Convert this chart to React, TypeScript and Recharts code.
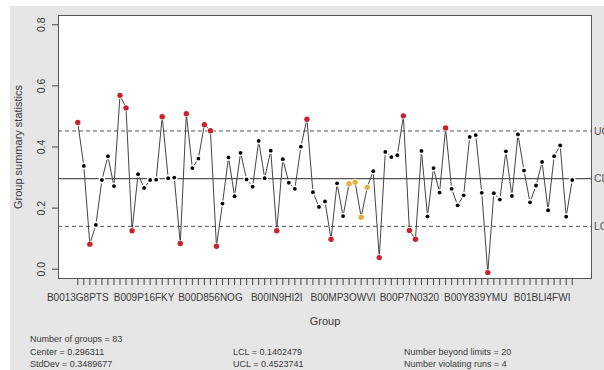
import React from "react";
import { LineChart, Line, XAxis, YAxis, ReferenceLine } from "recharts";

const values: number[] = [
  0.48, 0.338, 0.082, 0.145, 0.292, 0.37, 0.272, 0.569, 0.528, 0.126,
  0.311, 0.266, 0.292, 0.293, 0.499, 0.298, 0.3, 0.084, 0.509, 0.331,
  0.362, 0.473, 0.453, 0.075, 0.215, 0.366, 0.239, 0.381, 0.294, 0.27,
  0.42, 0.298, 0.388, 0.126, 0.36, 0.283, 0.263, 0.401, 0.491, 0.252,
  0.204, 0.222, 0.098, 0.281, 0.174, 0.28, 0.285, 0.17, 0.268, 0.321,
  0.038, 0.384, 0.367, 0.373, 0.502, 0.127, 0.098, 0.387, 0.173, 0.331,
  0.251, 0.462, 0.263, 0.209, 0.242, 0.433, 0.439, 0.25, -0.011, 0.249,
  0.228, 0.386, 0.24, 0.441, 0.323, 0.219, 0.274, 0.351, 0.193, 0.37,
  0.405, 0.172, 0.292,
];

const tickLabels: string[] = [
  "B0013G8PTS", "B009P16FKY", "B00D856NOG", "B00IN9HI2I",
  "B00MP3OWVI", "B00P7N0320", "B00Y839YMU", "B01BLI4FWI",
];
const tickLabelGroups: number[] = [1, 12, 23, 34, 45, 56, 67, 78];
const runViolationGroups: number[] = [46, 47, 48, 49];
const yTicks: number[] = [0, 0.2, 0.4, 0.6, 0.8];

const CENTER = 0.296311;
const LCL = 0.1402479;
const UCL = 0.4523741;

const data = values.map((v, i) => ({ group: i + 1, value: v }));
const allGroups = data.map((d) => d.group);
const labelMap: Record<number, string> = {};
tickLabelGroups.forEach((g, i) => (labelMap[g] = tickLabels[i]));

const FONT = '"Liberation Sans", Arial, Helvetica, sans-serif';
const TEXT = "#3a3a3a";

const renderDot = (props: any) => {
  const { cx, cy, payload, index } = props;
  const v = payload.value;
  let fill = "#000";
  let r = 1.9;
  if (v > UCL || v < LCL) {
    fill = "#c8232c";
    r = 2.7;
  } else if (runViolationGroups.includes(payload.group)) {
    fill = "#e3b040";
    r = 2.7;
  }
  return (
    <g key={`dot-${index}`}>
      <circle cx={cx} cy={cy} r={3.4} fill="#fff" />
      <circle cx={cx} cy={cy} r={r} fill={fill} />
    </g>
  );
};

const XTick = (props: any) => {
  const { x, y, payload } = props;
  const label = labelMap[payload.value] ?? "";
  return (
    <g>
      <line x1={x} y1={279} x2={x} y2={285} stroke="#444" strokeWidth={1} />
      {label ? (
        <text
          x={x}
          y={301}
          textAnchor="middle"
          fontSize={10}
          fontFamily={FONT}
          fill={TEXT}
        >
          {label}
        </text>
      ) : null}
    </g>
  );
};

const YTick = (props: any) => {
  const { y, payload } = props;
  const x = 45;
  return (
    <g>
      <line x1={52} y1={y} x2={58} y2={y} stroke="#444" strokeWidth={1} />
      <text
        x={x}
        y={y}
        transform={`rotate(-90 ${x} ${y})`}
        textAnchor="middle"
        fontSize={10.5}
        fontFamily={FONT}
        fill={TEXT}
      >
        {payload.value.toFixed(1)}
      </text>
    </g>
  );
};

const textStyle: React.CSSProperties = {
  position: "absolute",
  fontFamily: FONT,
  color: TEXT,
  whiteSpace: "nowrap",
  lineHeight: 1,
};

export default function App() {
  return (
    <div
      style={{
        position: "absolute",
        left: 0,
        top: 0,
        width: 604,
        height: 370,
        background: "#fff",
        overflow: "hidden",
        fontFamily: FONT,
      }}
    >
      <div
        style={{
          position: "absolute",
          left: 10,
          top: 6,
          width: 594,
          height: 364,
          background: "#e6e6e6",
        }}
      />
      <div
        style={{
          position: "absolute",
          left: 58,
          top: 15,
          width: 534,
          height: 264,
          background: "#fff",
          border: "1px solid #555",
          boxSizing: "border-box",
        }}
      />
      <div style={{ position: "absolute", left: 0, top: 0 }}>
        <LineChart
          width={604}
          height={370}
          data={data}
          margin={{ top: 15, right: 12, bottom: 61, left: 0 }}
        >
          <XAxis
            dataKey="group"
            type="number"
            domain={[-2.28, 86.28]}
            ticks={allGroups}
            interval={0}
            height={30}
            axisLine={false}
            tickLine={false}
            tick={<XTick />}
            allowDataOverflow
          />
          <YAxis
            type="number"
            domain={[-0.032, 0.832]}
            ticks={yTicks}
            width={58}
            axisLine={false}
            tickLine={false}
            tick={<YTick />}
            allowDataOverflow
          />
          <ReferenceLine
            y={CENTER}
            stroke="#555"
            strokeWidth={1.3}
            label={{ value: "CL", position: "right", offset: 2, fontSize: 10.5, fill: "#555", fontFamily: FONT }}
          />
          <ReferenceLine
            y={UCL}
            stroke="#555"
            strokeDasharray="4 3"
            label={{ value: "UCL", position: "right", offset: 2, fontSize: 10.5, fill: "#555", fontFamily: FONT }}
          />
          <ReferenceLine
            y={LCL}
            stroke="#555"
            strokeDasharray="4 3"
            label={{ value: "LCL", position: "right", offset: 2, fontSize: 10.5, fill: "#555", fontFamily: FONT }}
          />
          <Line
            type="linear"
            dataKey="value"
            stroke="#444"
            strokeWidth={1}
            dot={renderDot}
            activeDot={false}
            isAnimationActive={false}
          />
        </LineChart>
      </div>
      <div
        style={{
          ...textStyle,
          left: 18,
          top: 147,
          fontSize: 11,
          transform: "translate(-50%, -50%) rotate(-90deg)",
        }}
      >
        Group summary statistics
      </div>
      <div style={{ ...textStyle, left: 325, top: 316, fontSize: 11, transform: "translateX(-50%)" }}>
        Group
      </div>
      <div style={{ ...textStyle, left: 30, top: 335, fontSize: 9 }}>Number of groups = 83</div>
      <div style={{ ...textStyle, left: 30, top: 348, fontSize: 9 }}>Center = 0.296311</div>
      <div style={{ ...textStyle, left: 30, top: 360, fontSize: 9 }}>StdDev = 0.3489677</div>
      <div style={{ ...textStyle, left: 233, top: 348, fontSize: 9 }}>LCL = 0.1402479</div>
      <div style={{ ...textStyle, left: 233, top: 360, fontSize: 9 }}>UCL = 0.4523741</div>
      <div style={{ ...textStyle, left: 404, top: 348, fontSize: 9 }}>Number beyond limits = 20</div>
      <div style={{ ...textStyle, left: 404, top: 360, fontSize: 9 }}>Number violating runs = 4</div>
    </div>
  );
}
